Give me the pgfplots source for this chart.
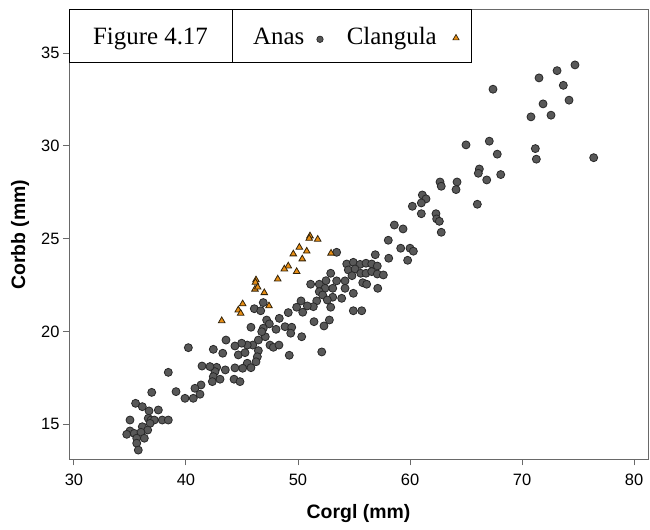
\documentclass[border=0pt]{standalone}
\usepackage{fontspec}
\setmainfont{Liberation Serif}
\newfontfamily\arial{Liberation Sans}
\usepackage{pgfplots}
\pgfplotsset{compat=1.18}
\definecolor{anasfill}{RGB}{88,88,88}
\definecolor{anasedge}{RGB}{40,40,40}
\definecolor{clfill}{RGB}{232,142,20}
\definecolor{cledge}{RGB}{50,35,10}
\definecolor{axgray}{RGB}{105,105,105}

\pgfplotstableread{
x y
74.73 34.37
73.13 34.06
71.52 33.67
73.69 33.27
67.41 33.06
74.20 32.47
71.88 32.27
72.59 31.66
70.80 31.57
65.00 30.06
67.08 30.26
67.79 29.56
71.19 29.86
71.28 29.29
76.40 29.37
66.19 28.76
66.10 28.53
66.85 28.17
68.10 28.46
62.68 28.06
62.79 27.83
64.20 28.06
64.11 27.65
61.10 27.36
61.43 27.15
61.01 26.93
60.21 26.75
66.01 26.86
61.01 26.35
62.32 26.35
62.38 26.07
62.62 25.94
62.79 25.35
58.60 25.74
59.38 25.53
58.06 24.92
59.17 24.49
60.00 24.49
60.30 24.33
59.79 23.84
58.10 23.95
56.90 24.14
53.45 24.27
54.35 23.64
54.94 23.73
55.54 23.62
56.07 23.68
56.58 23.64
57.08 23.53
54.49 23.32
55.09 23.37
55.60 23.14
56.07 23.14
56.58 23.23
57.08 23.10
57.62 23.05
54.82 23.01
54.20 22.73
52.92 23.14
53.45 22.73
52.50 22.74
51.90 22.55
51.13 22.55
55.78 22.63
56.13 22.55
57.12 22.33
54.94 22.06
54.20 22.33
53.10 22.33
52.41 22.33
51.90 22.15
52.20 21.97
53.10 21.85
53.90 21.79
52.62 21.70
51.67 21.65
51.37 21.34
50.83 21.38
50.27 21.65
49.88 21.31
50.42 21.04
52.92 21.31
54.94 21.12
55.69 21.12
52.80 20.62
51.43 20.53
52.32 20.30
50.33 19.72
52.12 18.90
46.10 21.23
46.67 21.12
46.90 21.56
49.13 21.02
47.20 20.62
47.44 20.41
46.90 20.18
48.33 20.71
48.04 20.12
48.84 20.26
49.44 20.23
49.35 19.91
45.80 20.23
47.08 19.72
46.76 19.99
46.46 19.54
45.96 19.27
45.47 19.27
44.97 19.37
44.37 19.22
43.57 19.54
42.44 19.04
43.28 18.83
40.21 19.13
44.67 18.74
45.27 18.86
46.46 18.97
46.37 18.64
46.25 18.37
47.50 19.27
47.80 19.15
48.30 19.27
49.22 18.72
45.47 18.29
45.80 18.05
45.06 18.02
44.37 18.04
43.51 17.93
42.74 18.07
42.59 17.84
42.44 17.57
43.04 17.43
42.35 17.30
41.43 18.14
42.14 18.11
44.29 17.43
44.82 17.30
41.34 17.12
40.80 16.94
41.25 16.62
39.11 16.76
39.91 16.40
40.65 16.40
38.42 17.80
36.94 16.72
35.50 16.13
36.10 15.95
36.70 15.72
37.53 15.77
35.00 15.23
36.63 15.32
36.88 15.23
37.17 15.23
37.88 15.23
38.42 15.23
36.79 15.05
36.10 14.87
36.58 14.69
35.00 14.64
34.71 14.46
35.38 14.51
35.98 14.57
35.60 14.25
36.28 14.25
35.60 13.98
35.74 13.61
}\anas

\pgfplotstableread{
x y
51.07 25.15
51.00 25.02
51.76 24.97
50.12 24.54
49.58 24.18
50.78 24.33
50.38 23.91
49.13 23.53
48.78 23.37
49.88 23.23
48.19 22.83
46.25 22.78
46.20 22.65
46.16 22.28
46.40 22.39
46.99 22.09
45.06 21.49
44.67 21.16
44.88 20.98
47.41 21.38
43.19 20.58
52.95 24.22
}\clangula

\begin{document}
\begin{tikzpicture}
\useasboundingbox (-69bp,-70.7bp) rectangle (581bp,459.3bp);
\begin{axis}[
  scale only axis, width=579bp, height=449.3bp,
  xmin=29.554, xmax=81.25, ymin=13.113, ymax=37.33,
  axis line style={draw=axgray, line width=1bp},
  tick align=outside, tick pos=left,
  major tick length=6bp,
  tick style={draw=axgray, line width=1bp},
  xtick={30,40,...,80}, ytick={15,20,...,35},
  /pgf/number format/assume math mode=true,
  ticklabel style={font=\arial\fontsize{16.5}{19}\selectfont},
  xticklabel style={yshift=-5bp},
  xlabel={Corgl (mm)},
  ylabel={Corbb (mm)},
  label style={font=\arial\bfseries\fontsize{19.5}{23}\selectfont},
  xlabel style={at={(axis description cs:0.5,-0.1307)}, anchor=base},
  ylabel style={at={(axis description cs:-0.0846,0.5)}, anchor=center},
]
\addplot[only marks, mark=*, mark size=4bp,
  mark options={fill=anasfill, draw=anasedge, line width=0.8bp}] table {\anas};
\addplot[only marks, mark=triangle*, mark size=3.8bp,
  mark options={fill=clfill, draw=cledge, line width=0.8bp}] table {\clangula};
\end{axis}
% legend box
\draw[black, line width=1bp, fill=white] (0bp,396.6bp) rectangle (402bp,449.3bp);
\draw[black, line width=1bp] (163.3bp,396.6bp) -- (163.3bp,449.3bp);
\node[anchor=base, inner sep=0pt, font=\fontsize{25}{30}\selectfont] at (81.5bp,414.3bp) {Figure 4.17};
\node[anchor=base west, inner sep=0pt, font=\fontsize{25}{30}\selectfont] at (184bp,414.3bp) {Anas};
\draw[fill=anasfill, draw=anasedge, line width=0.7bp] (251bp,420bp) circle (3.2bp);
\node[anchor=base west, inner sep=0pt, font=\fontsize{25}{30}\selectfont] at (277.6bp,414.3bp) {Clangula};
\path[fill=clfill, draw=cledge, line width=0.7bp] (387bp,421.2bp) +(90:3.6bp) -- +(210:3.6bp) -- +(330:3.6bp) -- cycle;
\end{tikzpicture}
\end{document}
